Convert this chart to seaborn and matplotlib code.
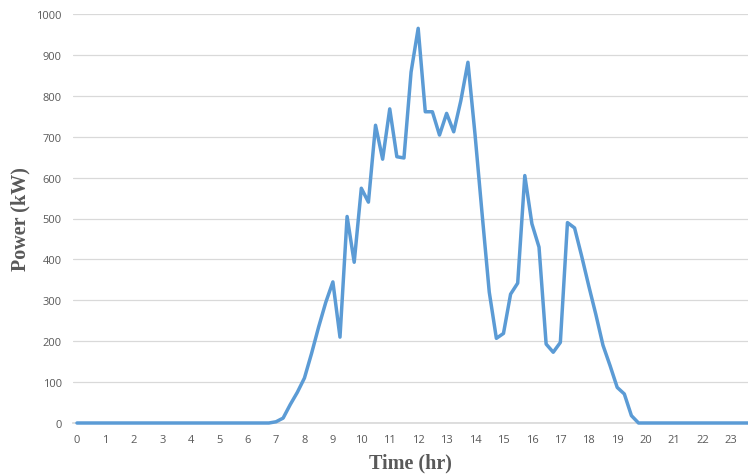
import matplotlib
matplotlib.use("Agg")
import matplotlib.pyplot as plt
import seaborn as sns
import numpy as np
import pandas as pd

# Time in hours (15-minute steps) and power in kW
hours = [i * 0.25 for i in range(96)]
power = (
    [0] * 28 +  # 0:00 .. 6:45
    [3, 12, 45, 75, 110, 170, 235, 295, 345, 210, 505, 393,
     574, 540, 728, 645, 768, 651, 648, 858, 965, 761, 761, 704,
     757, 712, 788, 882, 705, 510, 320, 207, 219, 315, 342, 605,
     487, 430, 193, 173, 197, 490, 477, 408, 335, 265, 190, 140,
     87, 71, 18, 0] +
    [0] * 16  # 20:00 .. 23:45
)
xtick_vals = list(range(24))
ytick_vals = list(range(0, 1001, 100))

df = pd.DataFrame({"Time": hours, "Power": power})

sns.set_theme(style="white")
plt.rcParams['font.family'] = ['Open Sans', 'DejaVu Sans']

fig = plt.figure(figsize=(7.48, 4.77), dpi=100)
ax = fig.add_axes([73/748, 1 - 424/477, 1 - 73/748, (424 - 15)/477])

sns.lineplot(data=df, x="Time", y="Power", ax=ax, color="#5B9BD5",
             linewidth=2.5, clip_on=False, zorder=3)

ax.set_xlim(-0.14, 23.6)
ax.set_ylim(0, 1000)
ax.set_xticks(xtick_vals)
ax.set_yticks(ytick_vals)
ax.tick_params(axis='both', length=0, labelsize=8, labelcolor="#595959")
ax.tick_params(axis='x', pad=8)
ax.tick_params(axis='y', pad=8)
ax.grid(axis='y', color="#d9d9d9", linewidth=0.9)
ax.grid(axis='x', visible=False)
for s in ["top", "right", "left"]:
    ax.spines[s].set_visible(False)
ax.spines["bottom"].set_color("#d9d9d9")

ax.set_xlabel("Time (hr)", family=["Liberation Serif"], fontweight="bold",
              fontsize=14.5, color="#595959", labelpad=5)
ax.set_ylabel("Power (kW)", family=["Liberation Serif"], fontweight="bold",
              fontsize=14.5, color="#595959", labelpad=4)

fig.savefig("out.png", dpi=100)
